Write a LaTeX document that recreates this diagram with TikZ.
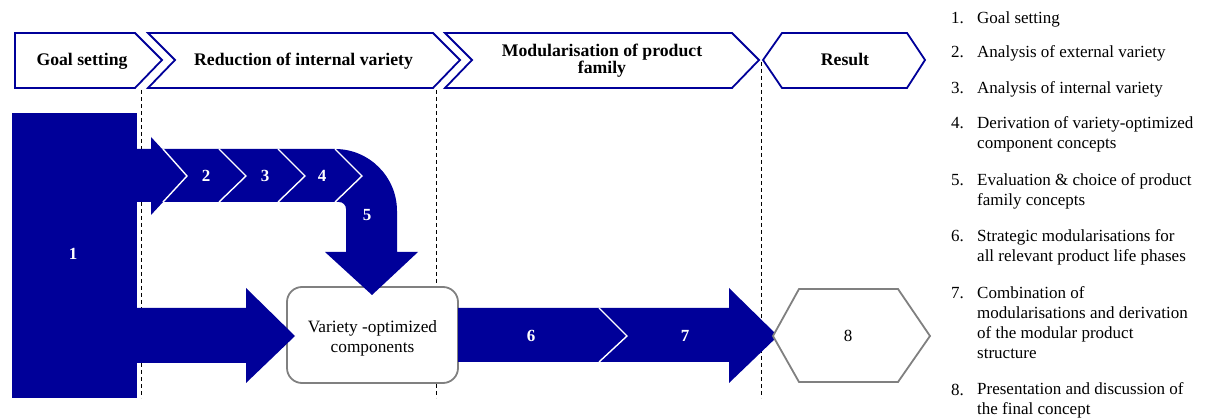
\documentclass[tikz,border=0pt]{standalone}
\usepackage{fontspec}
\setmainfont{Liberation Serif}
\definecolor{navy}{RGB}{0,0,153}
\definecolor{boxgray}{RGB}{128,128,128}
\begin{document}
\begin{tikzpicture}[x=1pt,y=-1pt,
  hdr/.style={draw=navy,line width=1.8pt,fill=white,line join=miter},
  hdrtext/.style={font=\fontsize{17.7}{16}\selectfont\bfseries,align=center,anchor=base,inner sep=0pt},
  bluefill/.style={fill=navy},
  sepline/.style={draw=white,line width=1.4pt},
  gridline/.style={draw=black,line width=0.7pt,dash pattern=on 4pt off 3pt},
  numlbl/.style={text=white,font=\fontsize{17}{20}\selectfont\bfseries,inner sep=0pt},
  listnum/.style={font=\fontsize{17}{20}\selectfont,anchor=base west,inner sep=0pt},
  listtxt/.style={font=\fontsize{17}{20}\selectfont,anchor=base west,align=left,inner sep=0pt},
  graybox/.style={draw=boxgray,line width=1.8pt,fill=white}
]
\useasboundingbox (0,0) rectangle (1213,419);

% header chevrons
\draw[hdr] (15,33) -- (135,33) -- (162,60) -- (135,88) -- (15,88) -- cycle;
\draw[hdr] (148,33) -- (433,33) -- (460,60) -- (433,88) -- (148,88) -- (175,60) -- cycle;
\draw[hdr] (445,33) -- (732,33) -- (759,60) -- (732,88) -- (445,88) -- (472,60) -- cycle;
\draw[hdr] (763,60) -- (782,33) -- (907,33) -- (925,60) -- (907,88) -- (782,88) -- cycle;
\node[hdrtext] (hgoal) at (82,65.5) {Goal setting};
\node[hdrtext] (hred) at (303.5,65.5) {Reduction of internal variety};
\node[hdrtext] (hmod) at (602,73.5) {Modularisation of product\\family};
\node[hdrtext] (hres) at (845,65.5) {Result};

% dashed phase separators
\coordinate (d1t) at (141,90); \coordinate (d1b) at (141,398);
\coordinate (d2t) at (436,90); \coordinate (d2b) at (436,398);
\coordinate (d3t) at (761,62); \coordinate (d3b) at (761,398);
\draw[gridline] (d1t) -- (d1b);
\draw[gridline] (d2t) -- (d2b);
\draw[gridline] (d3t) -- (d3b);

% result box
\node[graybox,rounded corners=15pt,minimum width=171pt,minimum height=96pt,inner sep=0pt] (vbox) at (372.5,335) {};
\node[font=\fontsize{17.3}{20.5}\selectfont,align=center,anchor=base,inner sep=0pt] (vtext) at (372.5,353) {Variety -optimized\\components};

% block 1
\fill[bluefill] (12,113) rectangle (137,398);
% upper arrow from block 1
\fill[bluefill] (136,149) -- (151,149) -- (151,137) -- (187,176) -- (151,215) -- (151,202) -- (136,202) -- cycle;
% band 2-3-4 and bent arrow 5
\fill[bluefill] (160,149) -- (335,149) .. controls (369.2,149) and (397,176.8) .. (397,211)
  -- (397,252) -- (418,252) -- (372,295) -- (325,252) -- (346,252) -- (346,209)
  .. controls (346,205.1) and (342.9,202) .. (339,202) -- (160,202) -- cycle;
\draw[sepline] (163,149) -- (187,176) -- (163,202);
\draw[sepline] (219,149) -- (246,176) -- (219,202);
\draw[sepline] (278,149) -- (305,176) -- (278,202);
\draw[sepline] (335,149) -- (362,176) -- (335,202);
% lower arrow from block 1
\fill[bluefill] (136,308) -- (246,308) -- (246,288) -- (295,336) -- (246,383) -- (246,363) -- (136,363) -- cycle;
% arrow 6-7
\fill[bluefill] (458,308) -- (729,308) -- (729,288) -- (778,336) -- (729,383) -- (729,362) -- (458,362) -- cycle;
\draw[sepline] (599,308) -- (627,336) -- (599,362);

% result hexagon
\draw[graybox,line join=miter] (773,336) -- (799,289) -- (898,289) -- (930,336) -- (898,382) -- (799,382) -- cycle;

% labels
\node[numlbl] (n1) at (73,254) {1};
\node[numlbl] (n2) at (206,176) {2};
\node[numlbl] (n3) at (265,176) {3};
\node[numlbl] (n4) at (322,176) {4};
\node[numlbl] (n5) at (367,215) {5};
\node[numlbl] (n6) at (531,336) {6};
\node[numlbl] (n7) at (685,336) {7};
\node[font=\fontsize{17}{20}\selectfont,inner sep=0pt] (n8) at (848,336) {8};

% legend list (base anchor = baseline of the last line)
\node[listnum] (ln1) at (951,23.5) {1.};
\node[listtxt] (lt1) at (977,23.5) {Goal setting};
\node[listnum] (ln2) at (951,57.5) {2.};
\node[listtxt] (lt2) at (977,57.5) {Analysis of external variety};
\node[listnum] (ln3) at (951,93.5) {3.};
\node[listtxt] (lt3) at (977,93.5) {Analysis of internal variety};
\node[listnum] (ln4) at (951,128.5) {4.};
\node[listtxt] (lt4) at (977,148.5) {Derivation of variety-optimized\\component concepts};
\node[listnum] (ln5) at (951,185.5) {5.};
\node[listtxt] (lt5) at (977,205.5) {Evaluation \& choice of product\\family concepts};
\node[listnum] (ln6) at (951,241.5) {6.};
\node[listtxt] (lt6) at (977,261.5) {Strategic modularisations for\\all relevant product life phases};
\node[listnum] (ln7) at (951,298.5) {7.};
\node[listtxt] (lt7) at (977,358.5) {Combination of\\modularisations and derivation\\of the modular product\\structure};
\node[listnum] (ln8) at (951,395.5) {8.};
\node[listtxt] (lt8) at (977,414.5) {Presentation and discussion of\\the final concept};
\end{tikzpicture}
\end{document}
